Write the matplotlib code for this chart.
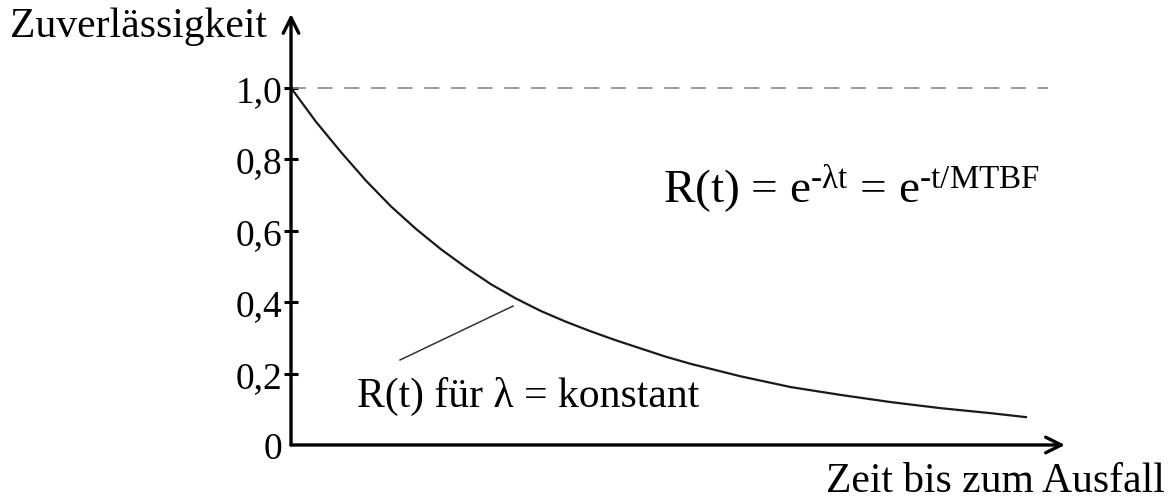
import numpy as np
import matplotlib.pyplot as plt

zeit = [0.0, 0.25, 0.5, 0.75, 1.0, 1.25, 1.5, 1.75, 2.0, 2.25, 2.5, 2.75, 3.0,
        3.25, 3.5, 3.75, 4.0, 4.5, 5.0, 5.5, 6.0, 6.5, 7.0, 7.35]
zuverl = [1.0, 0.905, 0.82, 0.74, 0.668, 0.605, 0.548, 0.497, 0.45, 0.41, 0.375, 0.345, 0.318,
          0.293, 0.27, 0.247, 0.227, 0.192, 0.162, 0.14, 0.12, 0.103, 0.089, 0.078]

ytick_pos = [0, 0.2, 0.4, 0.6, 0.8, 1.0]
ytick_labels = ['0', '0,2', '0,4', '0,6', '0,8', '1,0']

plt.rcParams['font.family'] = ['Liberation Serif', 'DejaVu Serif']
plt.rcParams['mathtext.fontset'] = 'custom'
plt.rcParams['mathtext.rm'] = 'Liberation Serif'
plt.rcParams['mathtext.it'] = 'Liberation Serif'

fig = plt.figure(figsize=(11.73, 5.02), dpi=100)
ax = fig.add_axes([0.2481, 0.1116, 0.6598, 0.8586])
ax.set_xlim(0, 7.74)
ax.set_ylim(0, 1.207)

# curve
ax.plot(zeit, zuverl, color='#1a1a1a', lw=1.6, clip_on=False)

# dashed line at 1,0
ax.plot([0, 7.57], [1.0, 1.0], color='#8a8a8a', lw=1.2, dashes=(9, 7))

# axes with arrows
for s in ax.spines.values():
    s.set_visible(False)
arrow = dict(arrowstyle='->', lw=2.4, color='black', mutation_scale=28, shrinkA=0, shrinkB=0)
ax.annotate('', xy=(1, 0), xytext=(0, 0), xycoords='axes fraction', arrowprops=arrow)
ax.annotate('', xy=(0, 1), xytext=(0, 0), xycoords='axes fraction', arrowprops=arrow)

ax.set_xticks([])
ax.set_yticks(ytick_pos)
ax.set_yticklabels(ytick_labels, fontsize=27)
ax.tick_params(axis='y', direction='inout', length=10, width=2.2, pad=1)
ax.yaxis.get_major_ticks()[0].tick1line.set_visible(False)

# texts
ax.text(-2.81, 1.146, 'Zuverlässigkeit', fontsize=30, va='baseline', ha='left', clip_on=False)
ax.text(8.74, -0.13, 'Zeit bis zum Ausfall', fontsize=30, va='baseline', ha='right', clip_on=False)
ax.text(3.72, 0.681, r'R(t) = e$^{\text{-λt}}$ = e$^{\text{-t/MTBF}}$',
        fontsize=34, va='baseline', ha='left')
ax.text(0.66, 0.109, 'R(t) für λ = konstant', fontsize=30, va='baseline', ha='left')

# leader line
ax.plot([1.09, 2.22], [0.238, 0.389], color='#333333', lw=1.1)

fig.savefig('out.png', dpi=100)
